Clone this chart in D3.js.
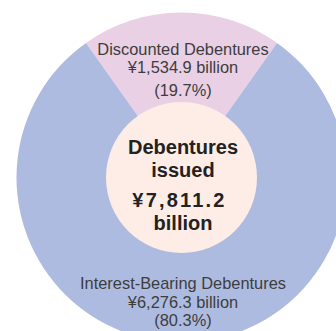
<!DOCTYPE html>
<html>
<head>
<meta charset="utf-8">
<script src="https://cdn.jsdelivr.net/npm/d3@7"></script>
<style>
  html, body { margin: 0; padding: 0; background: #fff; }
  svg { display: block; }
</style>
</head>
<body>
<svg id="chart" width="336" height="331"></svg>
<script>
// Debenture issuance breakdown (¥ billion)
const categories = ["Discounted Debentures", "Interest-Bearing Debentures"];
const values = [1534.9, 6276.3];
const amountLabels = ["¥1,534.9 billion", "¥6,276.3 billion"];
const shareLabels = ["(19.7%)", "(80.3%)"];
const totalLines = ["Debentures", "issued", "¥7,811.2", "billion"];
const colors = ["#e9d0e5", "#aebbe0"];

const svg = d3.select("#chart");
const cx = 181.5, cy = 177.5;
const outerR = 165, innerR = 75.5;

const total = d3.sum(values);
const firstSpan = 2 * Math.PI * values[0] / total;

// Discounted slice sits centred at the top of the ring
const pie = d3.pie().sort(null)
  .startAngle(-firstSpan / 2)
  .endAngle(2 * Math.PI - firstSpan / 2);
const arcs = pie(values);
const arc = d3.arc().innerRadius(0).outerRadius(outerR);

const g = svg.append("g").attr("transform", `translate(${cx},${cy})`);

g.selectAll("path.slice")
  .data(arcs)
  .join("path")
  .attr("class", "slice")
  .attr("d", arc)
  .attr("fill", (d, i) => colors[i]);

// Centre disc with the total
g.append("circle")
  .attr("r", innerR)
  .attr("fill", "#fdede6");

const labelFont = "'Liberation Sans', Arial, sans-serif";
const textColor = "#3d3d3d";

// Slice labels: name, amount, share
const labelBaselines = [
  [54.5, 73, 96],
  [289, 307.5, 325.5]
];
arcs.forEach((d, i) => {
  const lines = [categories[i], amountLabels[i], shareLabels[i]];
  const t = svg.append("text")
    .attr("text-anchor", "middle")
    .attr("font-family", labelFont)
    .attr("font-size", 16.4)
    .attr("fill", textColor);
  lines.forEach((s, k) => {
    t.append("tspan")
      .attr("x", cx + 1.5)
      .attr("y", labelBaselines[i][k])
      .text(s);
  });
});

// Total in the centre
const centreBaselines = [153.5, 176.5, 207, 230];
const ct = svg.append("text")
  .attr("text-anchor", "middle")
  .attr("font-family", labelFont)
  .attr("font-weight", "bold")
  .attr("font-size", 20)
  .attr("fill", "#222");
totalLines.forEach((s, k) => {
  ct.append("tspan")
    .attr("x", k === 2 ? cx - 2 : cx + 1.5)
    .attr("y", centreBaselines[k])
    .attr("letter-spacing", k === 2 ? 2.2 : 0)
    .text(s);
});
</script>
</body>
</html>
